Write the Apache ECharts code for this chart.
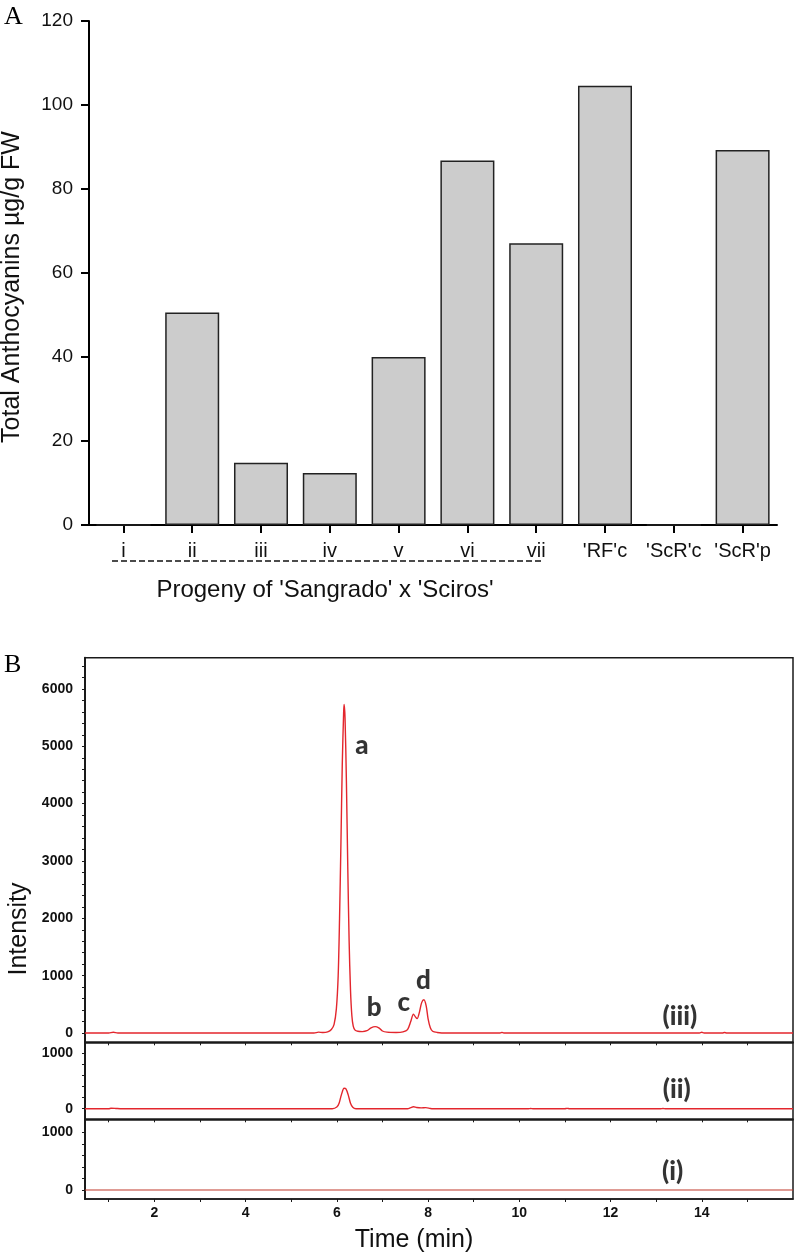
<!DOCTYPE html>
<html>
<head>
<meta charset="utf-8">
<script src="https://cdn.jsdelivr.net/npm/echarts@6/dist/echarts.min.js"></script>
<style>
html,body{margin:0;padding:0;background:#fff;}
#c{width:797px;height:1256px;}
</style>
</head>
<body>
<div id="c"></div>
<script>
// ---- Panel A data ----
const categories = ['i', 'ii', 'iii', 'iv', 'v', 'vi', 'vii', "'RF'c", "'ScR'c", "'ScR'p"];
const anthocyanins = [0, 50.6, 14.8, 12.4, 40.0, 86.8, 67.1, 104.6, 0, 89.3];
const yTicksA = [0, 20, 40, 60, 80, 100, 120];

// ---- Panel B data (time min, intensity) ----
const traceIII = [
  [0.48,0],[1.0,0],[1.1,12],[1.2,0],[5.5,0],[5.6,15],[5.7,8],[5.8,20],[5.88,60],[5.94,150],
  [5.99,420],[6.03,1000],[6.06,2000],[6.09,3300],[6.12,4700],[6.15,5600],[6.16,5730],[6.18,5500],
  [6.21,4400],[6.24,2900],[6.27,1600],[6.30,750],[6.33,300],[6.36,120],[6.40,50],[6.46,30],
  [6.56,25],[6.66,40],[6.75,90],[6.84,112],[6.92,90],[7.0,35],[7.1,15],[7.3,10],[7.45,20],
  [7.55,60],[7.62,200],[7.68,330],[7.72,285],[7.76,250],[7.81,360],[7.86,530],[7.91,580],
  [7.96,470],[8.0,250],[8.05,90],[8.1,30],[8.2,10],[8.4,0],[9.58,0],[9.62,10],[9.66,0],
  [13.95,0],[14.0,12],[14.05,0],[14.45,0],[14.5,10],[14.55,0],[16,0]
];
const traceII = [
  [0.48,0],[1.0,0],[1.05,8],[1.15,5],[1.25,0],[5.9,0],[6.0,30],[6.05,100],[6.1,250],[6.16,370],
  [6.2,360],[6.25,250],[6.3,100],[6.35,25],[6.42,0],[7.55,0],[7.62,20],[7.68,35],[7.75,22],
  [7.85,15],[7.95,20],[8.05,5],[8.1,0],[10.2,0],[10.25,5],[10.3,0],[11.0,0],[11.05,6],[11.1,0],
  [13.1,0],[13.15,5],[13.2,0],[16,0]
];
const traceI = [[0.48,0],[16,0]];
const peakLabels = [[6.55,5005,'a'],[6.82,446,'b'],[7.47,533,'c'],[7.90,911,'d']];
const labelIII = [[13.52,289,'(iii)']];
const labelII = [[13.45,338,'(ii)']];
const labelI = [[13.36,317,'(i)']];
const timeLabels = [2, 4, 6, 8, 10, 12, 14];
const timeTicks = [1,2,3,4,5,6,7,8,9,10,11,12,13,14,15];
const intTicksTop = [0,200,400,600,800,1000,1200,1400,1600,1800,2000,2200,2400,2600,2800,3000,3200,3400,3600,3800,4000,4200,4400,4600,4800,5000,5200,5400,5600,5800,6000,6200,6400];
const intLabelsTop = [0,1000,2000,3000,4000,5000,6000];
const intTicksSmall = [0,200,400,600,800,1000];
const intLabelsSmall = [0,1000];

const chart = echarts.init(document.getElementById('c'), null, {renderer: 'canvas'});
const F = 'Liberation Sans, Arial, sans-serif';
const ink = '#1a1a1a';
const red = '#e3262d';

function bAxisY(grid, min, max, ticks, labels) {
  return {
    type: 'value', gridIndex: grid, min: min, max: max,
    axisLine: {show: true, lineStyle: {color: ink, width: 2}},
    axisTick: {show: true, customValues: ticks, length: 3, lineStyle: {color: ink, width: 1}},
    axisLabel: {customValues: labels, formatter: v => String(v), fontFamily: F, fontWeight: 'bold', fontSize: 14, color: '#111', margin: 12},
    splitLine: {show: false}
  };
}
function bAxisX(grid, showLabel) {
  return {
    type: 'value', gridIndex: grid, min: 0.48, max: 16,
    axisLine: {show: true, onZero: false, lineStyle: {color: ink, width: 1.5}},
    axisTick: {show: true, customValues: timeTicks, length: 3, lineStyle: {color: ink, width: 1}},
    axisLabel: {show: showLabel, customValues: timeLabels, formatter: v => String(v), fontFamily: F, fontWeight: 'bold', fontSize: 14, color: '#111', margin: 7},
    splitLine: {show: false}
  };
}
function annot(xi, yi, data, size) {
  return {
    type: 'scatter', xAxisIndex: xi, yAxisIndex: yi, data: data.map(d => ({value: [d[0], d[1]], name: d[2]})),
    symbol: 'circle', symbolSize: 1, itemStyle: {color: 'rgba(0,0,0,0)'}, silent: true,
    label: {show: true, position: 'inside', formatter: p => p.name, fontFamily: 'Lato, "Open Sans", sans-serif', fontWeight: 900, fontSize: size, color: '#000', textBorderWidth: 0}
  };
}

const option = {
  backgroundColor: '#fff',
  animation: false,
  grid: [
    {left: 89, top: 21, width: 688, height: 504, outerBoundsMode: 'none', containLabel: false},
    {left: 85, top: 657.7, width: 708, height: 384.6, show: true, borderColor: ink, borderWidth: 1.5, outerBoundsMode: 'none', containLabel: false},
    {left: 85, top: 1042.3, width: 708, height: 77, show: true, borderColor: ink, borderWidth: 1.5, outerBoundsMode: 'none', containLabel: false},
    {left: 85, top: 1119.3, width: 708, height: 79.7, show: true, borderColor: ink, borderWidth: 1.5, outerBoundsMode: 'none', containLabel: false}
  ],
  xAxis: [
    {type: 'category', gridIndex: 0, data: categories,
      axisLine: {show: true, lineStyle: {color: '#000', width: 2}},
      axisTick: {show: true, alignWithLabel: true, interval: 0, length: 8, lineStyle: {color: '#000', width: 2}},
      axisLabel: {interval: 0, hideOverlap: false, fontFamily: F, fontSize: 20, color: '#111', margin: 16}},
    bAxisX(1, false), bAxisX(2, false), bAxisX(3, true)
  ],
  yAxis: [
    {type: 'value', gridIndex: 0, min: 0, max: 120, interval: 20,
      axisLine: {show: true, lineStyle: {color: '#000', width: 2}},
      axisTick: {show: true, length: 8, lineStyle: {color: '#000', width: 2}},
      axisLabel: {customValues: yTicksA, formatter: v => String(v), fontFamily: F, fontSize: 19, color: '#111', margin: 16},
      splitLine: {show: false}},
    bAxisY(1, -162, 6545, intTicksTop, intLabelsTop),
    bAxisY(2, -191, 1199, intTicksSmall, intLabelsSmall),
    bAxisY(3, -156, 1225, intTicksSmall, intLabelsSmall)
  ],
  series: [
    {type: 'bar', xAxisIndex: 0, yAxisIndex: 0, data: anthocyanins, barWidth: '78.5%',
      itemStyle: {color: '#cccccc', borderColor: '#222', borderWidth: 1.5}},
    {type: 'line', xAxisIndex: 1, yAxisIndex: 1, data: traceIII, showSymbol: false, smooth: 0.3,
      lineStyle: {color: red, width: 1.4}},
    {type: 'line', xAxisIndex: 2, yAxisIndex: 2, data: traceII, showSymbol: false, smooth: 0.3,
      lineStyle: {color: red, width: 1.4}},
    {type: 'line', xAxisIndex: 3, yAxisIndex: 3, data: traceI, showSymbol: false,
      lineStyle: {color: '#c0392b', width: 1.2}},
    annot(1, 1, peakLabels, 26),
    annot(1, 1, labelIII, 26),
    annot(2, 2, labelII, 26),
    annot(3, 3, labelI, 26)
  ],
  graphic: [
    {type: 'text', left: 4, top: 4, style: {text: 'A', font: '26px "Liberation Serif", serif', fill: '#000'}},
    {type: 'text', left: 4, top: 652, style: {text: 'B', font: '26px "Liberation Serif", serif', fill: '#000'}},
    {type: 'text', x: 12, y: 287, rotation: Math.PI / 2,
      style: {text: 'Total Anthocyanins µg/g FW', font: '25px "Liberation Sans", Arial, sans-serif', fill: '#111', textAlign: 'center', textVerticalAlign: 'middle'}},
    {type: 'text', x: 325, y: 590,
      style: {text: "Progeny of 'Sangrado' x 'Sciros'", font: '24px "Liberation Sans", Arial, sans-serif', fill: '#111', textAlign: 'center', textVerticalAlign: 'middle'}},
    {type: 'line', shape: {x1: 112, y1: 561, x2: 543, y2: 561}, style: {stroke: '#111', lineWidth: 1.5, lineDash: [6, 3]}},
    {type: 'text', x: 19, y: 929, rotation: Math.PI / 2,
      style: {text: 'Intensity', font: '25px "Liberation Sans", Arial, sans-serif', fill: '#111', textAlign: 'center', textVerticalAlign: 'middle'}},
    {type: 'text', x: 414, y: 1240,
      style: {text: 'Time (min)', font: '25px "Liberation Sans", Arial, sans-serif', fill: '#111', textAlign: 'center', textVerticalAlign: 'middle'}}
  ]
};
chart.setOption(option);
</script>
</body>
</html>
